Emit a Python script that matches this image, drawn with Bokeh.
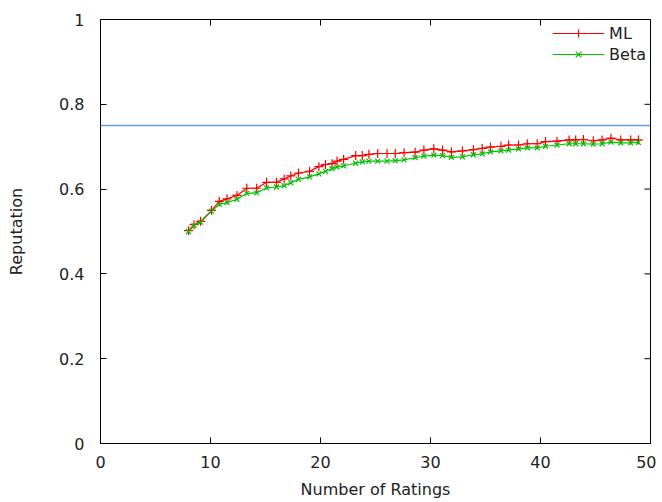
from bokeh.plotting import figure
from bokeh.models import Span, Legend, LegendItem, Range1d, FixedTicker
from bokeh.embed import file_html
from bokeh.resources import INLINE

ratings = [8.0, 8.5, 9.1, 10.1, 10.8, 11.5, 12.4, 13.3, 14.2, 15.1, 16.0, 16.7, 17.3, 18.0,
           19.0, 19.85, 20.45, 21.05, 21.5, 22.1, 23.2, 23.8, 24.4, 25.2, 26.05, 26.8, 27.6,
           28.6, 29.4, 30.3, 31.1, 31.9, 32.9, 33.9, 34.7, 35.45, 36.4, 37.1, 38.0, 38.8,
           39.7, 40.45, 41.5, 42.6, 43.2, 43.9, 44.8, 45.6, 46.4, 47.3, 48.2, 48.9]
ml = [0.502, 0.516, 0.524, 0.550, 0.571, 0.577, 0.585, 0.602, 0.602, 0.616, 0.616, 0.624,
      0.631, 0.638, 0.642, 0.653, 0.658, 0.660, 0.666, 0.670, 0.679, 0.679, 0.682, 0.684,
      0.684, 0.684, 0.686, 0.687, 0.692, 0.695, 0.692, 0.688, 0.690, 0.693, 0.696, 0.699,
      0.701, 0.704, 0.704, 0.707, 0.707, 0.712, 0.713, 0.716, 0.716, 0.717, 0.714, 0.716,
      0.720, 0.716, 0.716, 0.716]
beta = [0.500, 0.514, 0.522, 0.548, 0.564, 0.568, 0.576, 0.590, 0.591, 0.603, 0.605, 0.608,
        0.615, 0.623, 0.629, 0.636, 0.642, 0.648, 0.652, 0.655, 0.661, 0.664, 0.666, 0.666,
        0.666, 0.667, 0.669, 0.674, 0.678, 0.680, 0.679, 0.675, 0.676, 0.681, 0.683, 0.688,
        0.690, 0.692, 0.695, 0.697, 0.697, 0.701, 0.704, 0.707, 0.707, 0.707, 0.706, 0.707,
        0.711, 0.709, 0.709, 0.710]
target = 0.75
x_ticks = [0, 10, 20, 30, 40, 50]
y_ticks = [0, 0.2, 0.4, 0.6, 0.8, 1]

FONT = "DejaVu Sans"
FW, FH = 550, 424
X0, X1, Y0, Y1 = 0, 50, 0, 1

p = figure(frame_width=FW, frame_height=FH, output_backend="svg", toolbar_location=None,
           x_range=Range1d(X0, X1), y_range=Range1d(Y0, Y1),
           min_border_left=100, min_border_right=6, min_border_top=19, min_border_bottom=10,
           x_axis_label="Number of Ratings", y_axis_label="Reputation")
p.xgrid.visible = False
p.ygrid.visible = False
p.outline_line_color = "#000000"
p.outline_line_width = 1
p.background_fill_color = "white"
p.border_fill_color = "white"

for ax, ticks in ((p.xaxis[0], x_ticks), (p.yaxis[0], y_ticks)):
    ax.ticker = FixedTicker(ticks=ticks)
    ax.major_tick_in = 6
    ax.major_tick_out = 0
    ax.minor_tick_in = 0
    ax.minor_tick_out = 0
    ax.axis_line_color = "#000000"
    ax.major_tick_line_color = "#000000"
    ax.major_label_text_font = FONT
    ax.major_label_text_font_size = "16px"
    ax.major_label_text_color = "#222222"
    ax.axis_label_text_font = FONT
    ax.axis_label_text_font_size = "16px"
    ax.axis_label_text_font_style = "normal"
    ax.axis_label_text_color = "#222222"

p.yaxis[0].major_label_standoff = 16
p.yaxis[0].axis_label_standoff = 30
p.xaxis[0].major_label_standoff = 12
p.xaxis[0].axis_label_standoff = 9
p.yaxis[0].major_label_overrides = {0: "0", 1: "1"}

# mirrored inward ticks on the top and right borders (6 px long)
tx = 6 * (X1 - X0) / FW
ty = 6 * (Y1 - Y0) / FH
p.segment(x0=x_ticks, y0=[Y1] * len(x_ticks), x1=x_ticks, y1=[Y1 - ty] * len(x_ticks),
          line_color="#000000", line_width=1)
p.segment(x0=[X1] * len(y_ticks), y0=y_ticks, x1=[X1 - tx] * len(y_ticks), y1=y_ticks,
          line_color="#000000", line_width=1)

p.add_layout(Span(location=target, dimension="width", line_color="#5f9fe6", line_width=1.5))

ml_line = p.line(ratings, ml, line_color="#ff0000", line_width=1.2)
ml_pts = p.scatter(ratings, ml, marker="cross", size=9, line_color="#ff0000", line_width=1.2)
b_line = p.line(ratings, beta, line_color="#00c000", line_width=1.2)
b_pts = p.scatter(ratings, beta, marker="x", size=7, line_color="#00c000", line_width=1.2)

legend = Legend(items=[LegendItem(label="ML", renderers=[ml_line, ml_pts]),
                       LegendItem(label="Beta", renderers=[b_line, b_pts])],
                location="top_right", border_line_color=None, background_fill_alpha=0,
                label_text_font=FONT, label_text_font_size="16px", label_text_color="#222222",
                glyph_width=52, spacing=1, padding=2, margin=4)
p.add_layout(legend)

open("out.html", "w").write(file_html(p, INLINE))
